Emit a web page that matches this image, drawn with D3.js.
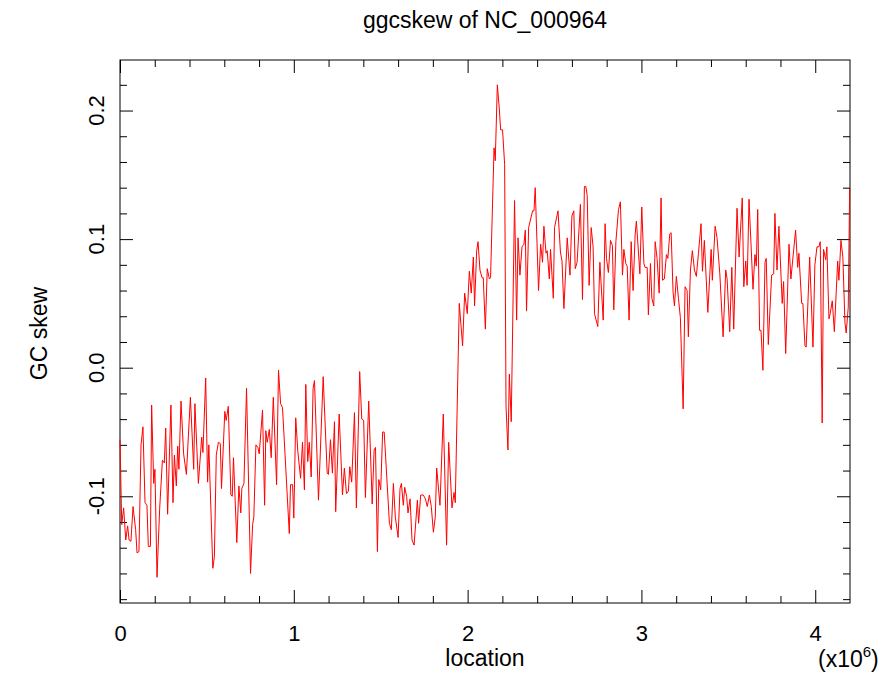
<!DOCTYPE html>
<html>
<head>
<meta charset="utf-8">
<script src="https://cdn.jsdelivr.net/npm/d3@7"></script>
<style>
  html, body { margin: 0; padding: 0; background: #fff; }
  svg { display: block; }
  text { font-family: "Liberation Sans", Arial, Helvetica, sans-serif; fill: #000; }
</style>
</head>
<body>
<svg id="chart" width="890" height="673"></svg>
<script>
// ---- data (location in units of 10^6 bp, GC skew) ----
const locationMb = [
  0.000,0.010,0.021,0.033,0.044,0.052,0.063,0.075,0.090,0.098,0.109,0.121,0.132,0.144,0.155,0.163,0.175,0.182,0.194,0.201,
  0.213,0.228,0.244,0.255,0.263,0.274,0.293,0.305,0.313,0.324,0.332,0.339,0.351,0.366,0.382,0.405,0.424,0.431,0.451,0.470,
  0.477,0.493,0.504,0.511,0.534,0.543,0.554,0.566,0.577,0.584,0.603,0.611,0.623,0.638,0.646,0.653,0.672,0.684,0.695,
  0.701,0.713,0.728,0.751,0.763,0.770,0.782,0.793,0.801,0.820,0.832,0.839,0.847,0.859,0.870,0.882,0.901,0.912,0.924,0.935,
  0.974,0.981,0.993,1.000,1.011,1.023,1.039,1.050,1.061,1.069,1.080,1.089,1.100,1.111,1.119,1.142,1.169,1.192,1.199,1.211,
  1.222,1.234,1.241,1.261,1.280,1.291,1.303,1.314,1.322,1.333,1.349,1.360,1.379,1.391,1.402,1.412,
  1.431,1.451,1.462,1.470,1.481,1.489,1.500,1.511,1.520,1.550,1.561,1.573,1.584,1.600,1.611,1.619,1.630,1.638,1.649,1.657,
  1.669,1.680,1.692,1.711,1.718,1.730,1.745,1.757,1.768,1.780,1.791,1.803,1.814,1.822,1.841,1.860,1.879,1.891,1.910,1.922,
  1.929,1.952,1.971,1.983,1.998,2.010,2.021,2.033,2.040,2.052,2.060,2.071,2.083,2.090,2.102,2.113,2.125,
  2.132,2.152,2.159,2.171,2.182,2.190,2.201,2.213,2.221,2.232,2.240,2.251,2.270,2.282,2.290,2.301,2.313,2.324,2.332,2.339,
  2.351,2.374,2.382,2.389,2.408,2.420,2.431,2.439,2.451,2.458,2.470,2.477,2.493,2.500,2.520,2.534,2.543,2.554,2.573,2.589,
  2.600,2.611,2.619,2.630,2.649,2.661,2.672,2.680,2.688,2.699,2.711,2.722,2.730,2.749,2.761,2.780,2.791,
  2.799,2.810,2.822,2.833,2.841,2.853,2.868,2.879,2.891,2.899,2.910,2.918,2.929,2.941,2.952,2.964,2.971,2.991,3.002,3.014,
  3.021,3.033,3.040,3.052,3.060,3.071,3.079,3.090,3.102,3.113,3.121,3.132,3.144,3.152,3.163,3.171,3.182,3.190,3.201,3.213,
  3.224,3.240,3.251,3.263,3.270,3.282,3.293,3.305,3.316,3.328,3.343,3.351,3.362,3.382,3.401,3.408,3.424,3.435,3.451,3.470,3.485,
  3.493,3.508,3.520,3.531,3.550,3.562,3.580,3.589,3.600,3.608,3.619,3.642,3.653,3.661,3.669,3.680,3.688,3.699,3.711,3.718,
  3.730,3.749,3.761,3.768,3.780,3.791,3.810,3.818,3.830,3.849,3.860,3.887,3.899,3.906,3.922,3.929,3.941,3.948,3.968,3.987,
  3.998,4.010,4.021,4.029,4.040,4.048,4.060,4.067,4.079,4.086,4.098,4.110,4.129,4.136,4.148,4.159,4.171,4.178,4.190,4.198
];
const gcSkew = [
  -0.056,-0.122,-0.109,-0.134,-0.123,-0.134,-0.135,-0.108,-0.126,-0.144,-0.143,-0.060,-0.046,-0.105,-0.107,-0.139,-0.139,-0.029,-0.090,-0.079,
  -0.163,-0.110,-0.072,-0.074,-0.047,-0.114,-0.029,-0.105,-0.068,-0.092,-0.061,-0.079,-0.026,-0.067,-0.083,-0.023,-0.079,-0.028,-0.090,-0.054,
  -0.066,-0.008,-0.089,-0.060,-0.156,-0.147,-0.068,-0.058,-0.059,-0.094,-0.034,-0.041,-0.030,-0.099,-0.100,-0.070,-0.136,-0.092,-0.113,
  -0.094,-0.090,-0.016,-0.160,-0.122,-0.116,-0.060,-0.062,-0.067,-0.033,-0.107,-0.049,-0.058,-0.048,-0.070,-0.023,-0.091,-0.002,-0.028,-0.031,
  -0.129,-0.091,-0.091,-0.117,-0.039,-0.065,-0.086,-0.058,-0.095,-0.013,-0.073,-0.058,-0.085,-0.016,-0.010,-0.103,-0.007,-0.082,-0.083,-0.056,
  -0.082,-0.042,-0.112,-0.036,-0.099,-0.078,-0.098,-0.096,-0.077,-0.089,-0.035,-0.109,-0.003,-0.040,-0.041,-0.101,
  -0.026,-0.106,-0.064,-0.062,-0.143,-0.087,-0.095,-0.050,-0.050,-0.121,-0.126,-0.090,-0.116,-0.132,-0.094,-0.090,-0.107,-0.093,-0.100,-0.113,
  -0.102,-0.134,-0.138,-0.103,-0.121,-0.099,-0.099,-0.102,-0.108,-0.099,-0.108,-0.128,-0.116,-0.078,-0.107,-0.036,-0.138,-0.058,-0.109,-0.097,
  -0.105,0.050,0.017,0.058,0.042,0.075,0.058,0.086,0.048,0.091,0.098,0.076,0.070,0.070,0.030,0.077,0.069,
  0.070,0.171,0.161,0.220,0.202,0.185,0.185,0.158,-0.030,-0.064,-0.005,-0.042,0.130,0.037,0.101,0.072,0.094,0.096,0.107,0.044,
  0.109,0.122,0.122,0.140,0.060,0.096,0.082,0.110,0.089,0.091,0.069,0.092,0.054,0.109,0.122,0.090,0.083,0.046,0.101,0.072,
  0.118,0.122,0.077,0.082,0.127,0.053,0.141,0.141,0.134,0.064,0.109,0.094,0.042,0.032,0.082,0.037,0.112,
  0.085,0.074,0.099,0.095,0.045,0.098,0.123,0.129,0.072,0.092,0.081,0.079,0.037,0.098,0.060,0.104,0.114,0.073,0.125,0.081,
  0.078,0.078,0.041,0.081,0.054,0.048,0.098,0.085,0.058,0.132,0.068,0.069,0.088,0.085,0.104,0.105,0.059,0.048,0.071,0.054,
  0.039,-0.032,0.063,0.060,0.024,0.076,0.091,0.076,0.071,0.089,0.112,0.075,0.099,0.043,0.092,0.068,0.110,0.101,0.073,0.024,0.076,
  0.069,0.028,0.078,0.030,0.124,0.086,0.132,0.063,0.083,0.064,0.131,0.061,0.088,0.079,0.123,0.029,0.029,-0.002,0.082,0.085,
  0.018,0.072,0.073,0.120,0.076,0.110,0.050,0.067,0.011,0.096,0.069,0.107,0.078,0.089,0.050,0.050,0.017,0.016,0.086,0.016,
  0.080,0.094,0.094,0.098,-0.043,0.092,0.084,0.094,0.038,0.042,0.052,0.028,0.083,0.068,0.099,0.086,0.035,0.027,0.047,0.139
];
const xMajorTicks = [0, 1, 2, 3, 4];
const xTickLabels = ["0", "1", "2", "3", "4"];
const yMajorTicks = [-0.1, 0.0, 0.1, 0.2];
const yTickLabels = ["-0.1", "0.0", "0.1", "0.2"];
const titleText = "ggcskew of NC_000964";
const xLabel = "location";
const yLabel = "GC skew";

// ---- layout ----
const L = 120, R = 850, T = 60, B = 603;
const svg = d3.select("#chart");

const x = d3.scaleLinear().domain([0, 4.2]).range([L, R]);
const y = d3.scaleLinear().domain([-0.183, 0.2393]).range([B, T]);

const xMinor = d3.range(0, 4.2001, 0.2).map(v => +v.toFixed(1)).filter(v => !xMajorTicks.includes(v) && v < 4.2);
const yMinor = d3.range(-0.18, 0.2301, 0.02).map(v => +v.toFixed(2)).filter(v => !yMajorTicks.some(m => Math.abs(m - v) < 1e-9));

const MAJ = 13, MIN = 7;

function styleAxis(g) {
  g.select(".domain").remove();
  g.selectAll(".tick line").attr("stroke", "#000").attr("stroke-width", 1);
}

// bottom ticks (inward)
svg.append("g").attr("transform", `translate(0,${B})`)
  .call(d3.axisBottom(x).tickValues(xMajorTicks).tickSize(-MAJ).tickFormat((d, i) => xTickLabels[i]).tickPadding(MAJ + 9))
  .call(styleAxis)
  .call(g => g.selectAll("text").attr("font-size", 22).attr("font-family", "Liberation Sans, Arial, sans-serif").attr("fill", "#000"));
svg.append("g").attr("transform", `translate(0,${B})`)
  .call(d3.axisBottom(x).tickValues(xMinor).tickSize(-MIN).tickFormat(""))
  .call(styleAxis);
// top ticks (inward)
svg.append("g").attr("transform", `translate(0,${T})`)
  .call(d3.axisTop(x).tickValues(xMajorTicks).tickSize(-MAJ).tickFormat(""))
  .call(styleAxis);
svg.append("g").attr("transform", `translate(0,${T})`)
  .call(d3.axisTop(x).tickValues(xMinor).tickSize(-MIN).tickFormat(""))
  .call(styleAxis);
// left ticks (inward)
svg.append("g").attr("transform", `translate(${L},0)`)
  .call(d3.axisLeft(y).tickValues(yMajorTicks).tickSize(-MAJ).tickFormat(""))
  .call(styleAxis);
svg.append("g").attr("transform", `translate(${L},0)`)
  .call(d3.axisLeft(y).tickValues(yMinor).tickSize(-MIN).tickFormat(""))
  .call(styleAxis);
// right ticks (inward)
svg.append("g").attr("transform", `translate(${R},0)`)
  .call(d3.axisRight(y).tickValues(yMajorTicks).tickSize(-MAJ).tickFormat(""))
  .call(styleAxis);
svg.append("g").attr("transform", `translate(${R},0)`)
  .call(d3.axisRight(y).tickValues(yMinor).tickSize(-MIN).tickFormat(""))
  .call(styleAxis);

// y tick labels, rotated
svg.append("g").selectAll("text").data(yMajorTicks).join("text")
  .attr("transform", d => `translate(104,${y(d)}) rotate(-90)`)
  .attr("text-anchor", "middle")
  .attr("font-size", 22)
  .text((d, i) => yTickLabels[i]);

// frame
svg.append("rect").attr("x", L).attr("y", T).attr("width", R - L).attr("height", B - T)
  .attr("fill", "none").attr("stroke", "#000").attr("stroke-width", 1);

// data line
const line = d3.line().x((d, i) => x(locationMb[i])).y(d => y(d));
svg.append("path").datum(gcSkew)
  .attr("d", line)
  .attr("fill", "none")
  .attr("stroke", "#ff0000")
  .attr("stroke-width", 1)
  .attr("stroke-linejoin", "miter");

// title and axis labels
svg.append("text").attr("x", (L + R) / 2).attr("y", 28).attr("text-anchor", "middle")
  .attr("font-size", 23).text(titleText);
svg.append("text").attr("x", (L + R) / 2).attr("y", 666).attr("text-anchor", "middle")
  .attr("font-size", 23).text(xLabel);
svg.append("text").attr("transform", `translate(47,${(T + B) / 2 + 2}) rotate(-90)`).attr("text-anchor", "middle")
  .attr("font-size", 23).text(yLabel);
const mult = svg.append("text").attr("x", 818).attr("y", 667).attr("font-size", 23);
mult.append("tspan").text("(x10");
mult.append("tspan").attr("dy", -10).attr("font-size", 15).text("6");
mult.append("tspan").attr("dy", 10).text(")");
</script>
</body>
</html>
